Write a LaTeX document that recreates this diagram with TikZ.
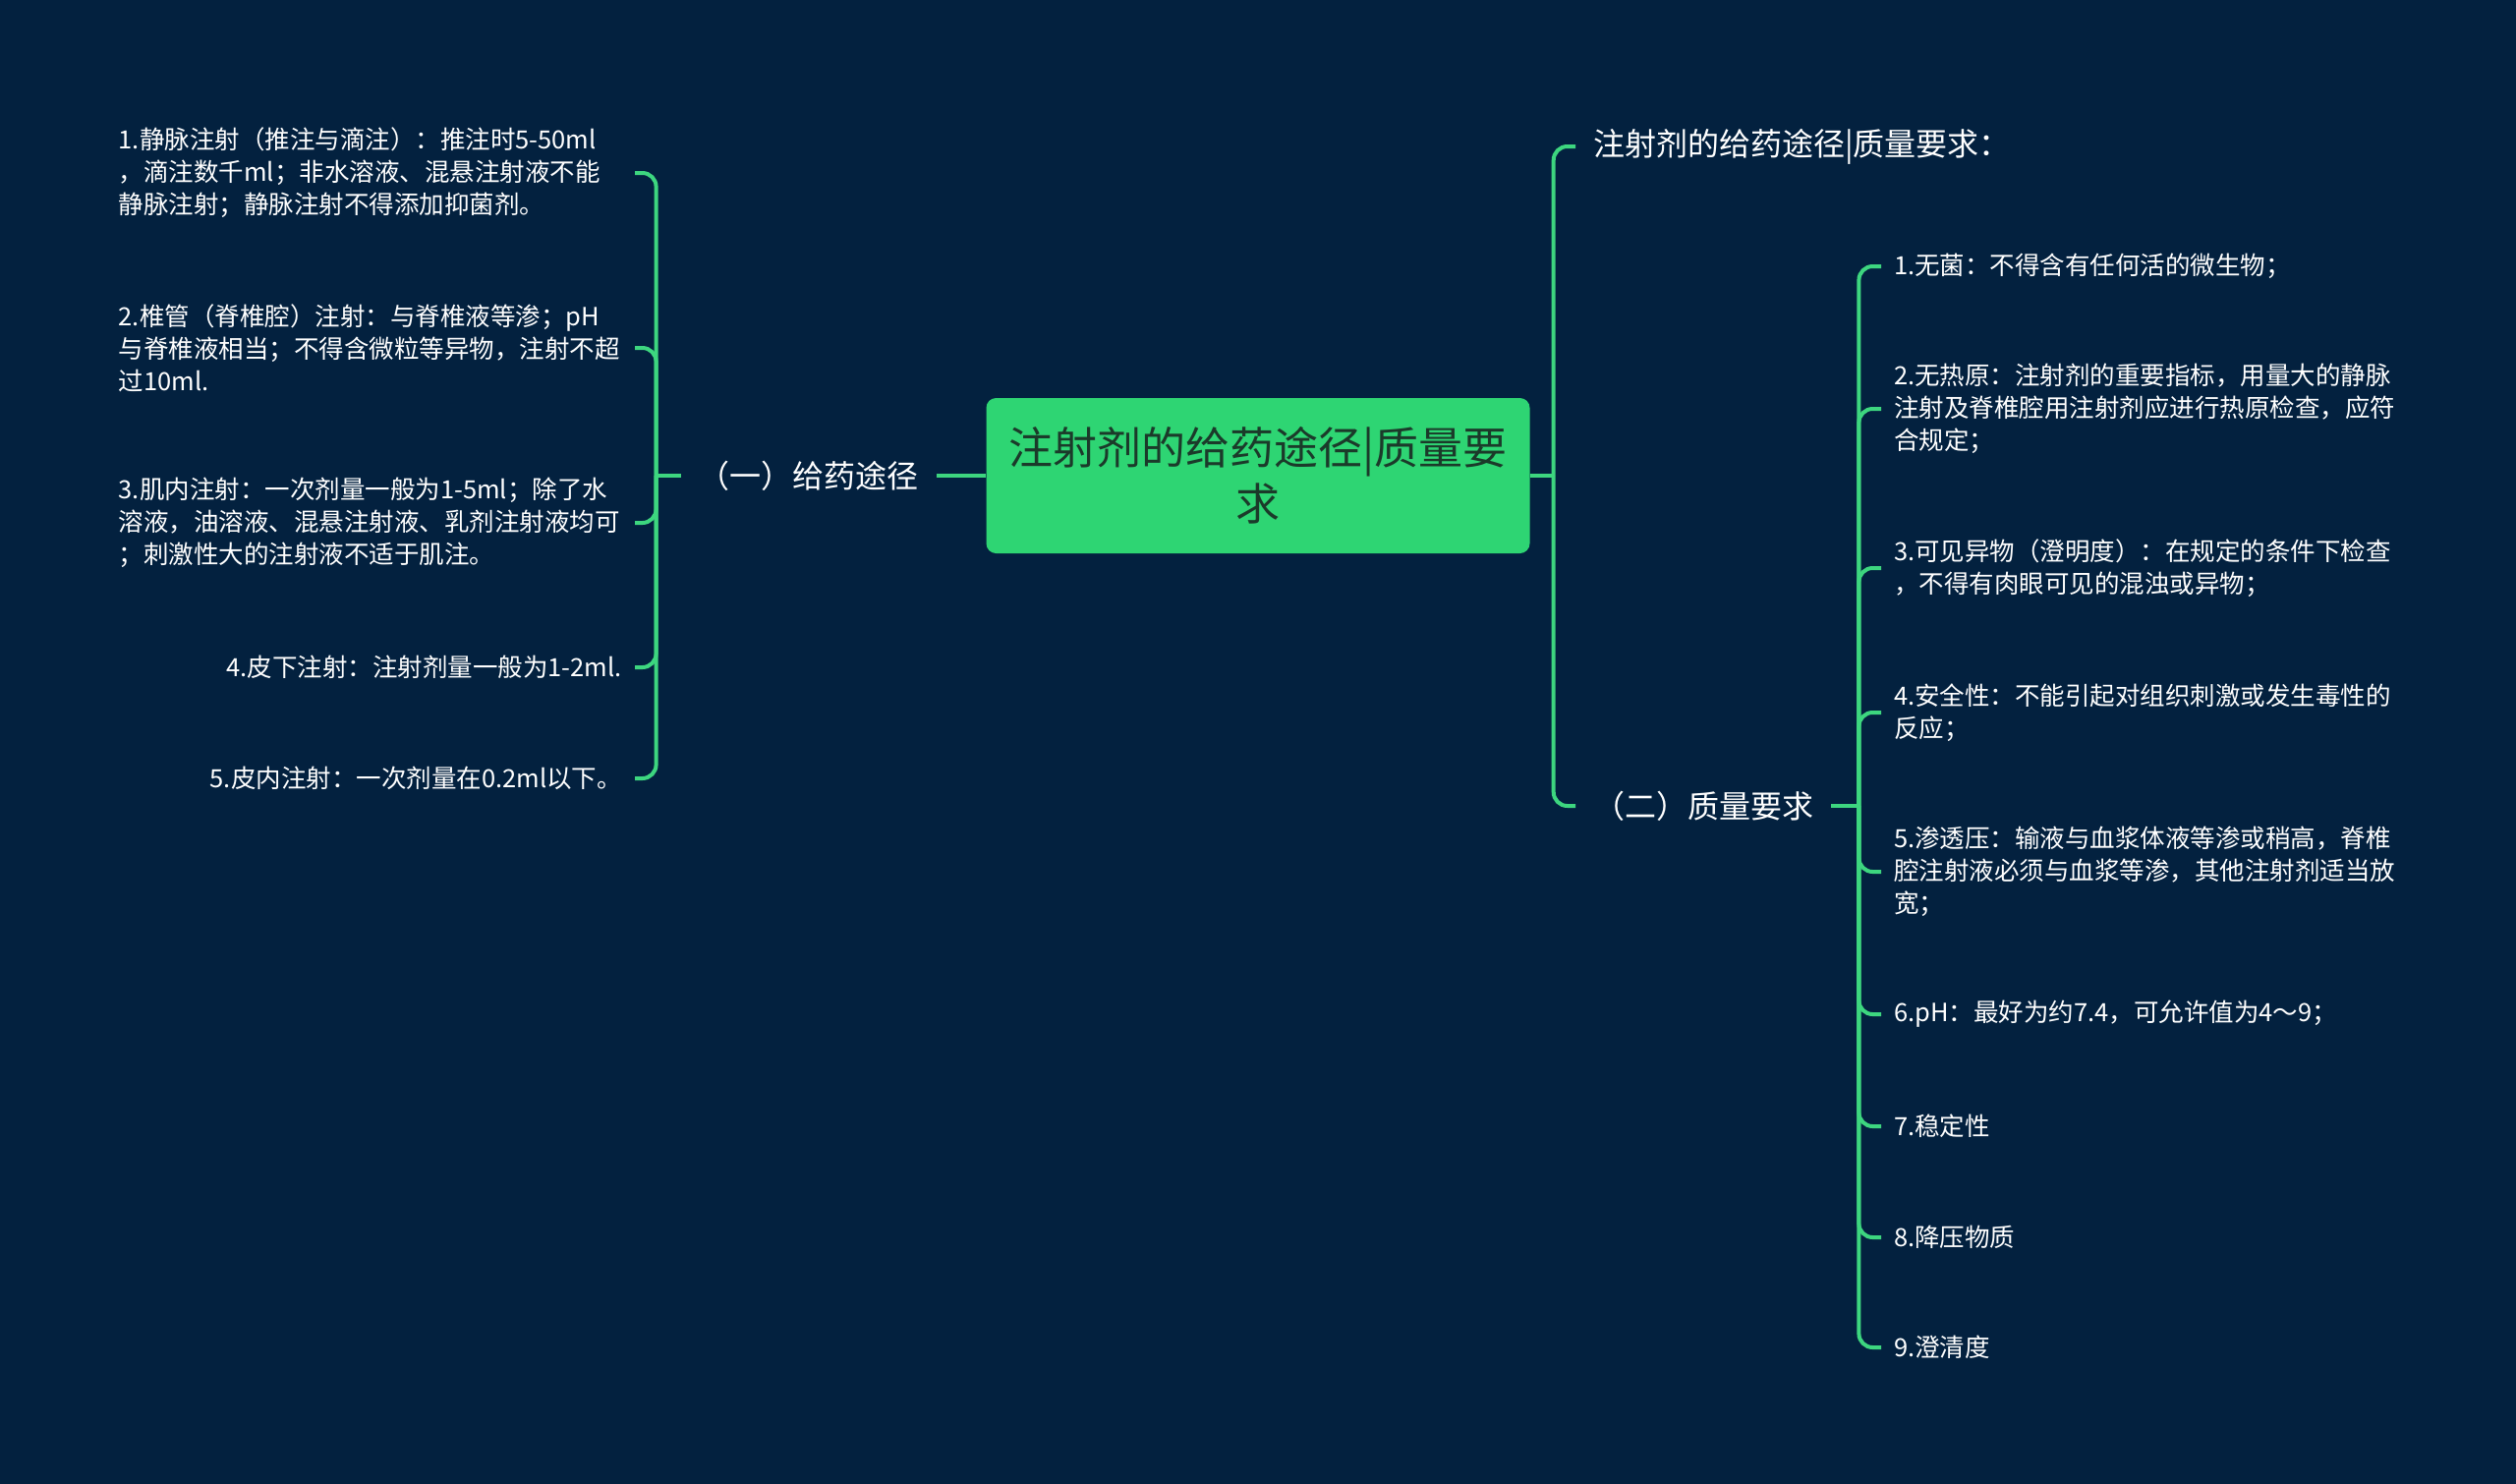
\documentclass[tikz,border=0pt]{standalone}
\usepackage{fontspec}
\setmainfont{Noto Sans CJK SC}
\usepackage{xcolor}
\usepackage{tikz}
\usetikzlibrary{calc,positioning}
\definecolor{navy}{HTML}{03213F}
\definecolor{mint}{HTML}{2ED573}
\definecolor{twig}{HTML}{3DD67F}
\definecolor{rootink}{HTML}{1B3A2A}
\newcommand{\LeafFont}{\fontsize{25.5}{33}\selectfont}
\newcommand{\MidFont}{\fontsize{32}{40}\selectfont}
\newcommand{\RootFont}{\fontsize{45}{57}\selectfont}

\begin{document}
\begin{tikzpicture}[x=1pt,y=-1pt,
    link/.style={twig,line width=4pt,rounded corners=14pt},
    root/.style={fill=mint,text=rootink,font=\RootFont,rounded corners=10pt,minimum width=553pt,minimum height=158pt,align=center},
    mid/.style={text=white,font=\MidFont,inner xsep=18pt},
    leaf/.style={text=white,font=\LeafFont,align=left,inner xsep=13pt},
    wide/.style={text width=512pt}]
  \fill[navy] (0,0) rectangle (2560,1510);
  \useasboundingbox (0,0) rectangle (2560,1510);
  \node[root] (root) at (1280,484) {注射剂的给药途径|质量要\\求};
  % LEFT BRANCH
  \node[mid,anchor=east] (g1) at (953,484) {（一）给药途径};
  \node[leaf,wide,anchor=east] (l1) at (646,176) {1.静脉注射（推注与滴注）：推注时5-50ml\\，滴注数千ml；非水溶液、混悬注射液不能\\静脉注射；静脉注射不得添加抑菌剂。};
  \node[leaf,wide,anchor=east] (l2) at (646,354) {2.椎管（脊椎腔）注射：与脊椎液等渗；pH\\与脊椎液相当；不得含微粒等异物，注射不超\\过10ml.};
  \node[leaf,wide,anchor=east] (l3) at (646,532) {3.肌内注射：一次剂量一般为1-5ml；除了水\\溶液，油溶液、混悬注射液、乳剂注射液均可\\；刺激性大的注射液不适于肌注。};
  \node[leaf,anchor=east] (l4) at (646,679) {4.皮下注射：注射剂量一般为1-2ml.};
  \node[leaf,anchor=east] (l5) at (646,792) {5.皮内注射：一次剂量在0.2ml以下。};
  % RIGHT BRANCH
  \node[mid,anchor=west] (t1) at (1603,149) {注射剂的给药途径|质量要求：};
  \node[mid,anchor=west] (g2) at (1603,820) {（二）质量要求};
  \node[leaf,wide,anchor=west] (r1) at (1914,271) {1.无菌：不得含有任何活的微生物；};
  \node[leaf,wide,anchor=west] (r2) at (1914,416) {2.无热原：注射剂的重要指标，用量大的静脉\\注射及脊椎腔用注射剂应进行热原检查，应符\\合规定；};
  \node[leaf,wide,anchor=west] (r3) at (1914,578) {3.可见异物（澄明度）：在规定的条件下检查\\，不得有肉眼可见的混浊或异物；};
  \node[leaf,wide,anchor=west] (r4) at (1914,725) {4.安全性：不能引起对组织刺激或发生毒性的\\反应；};
  \node[leaf,wide,anchor=west] (r5) at (1914,887) {5.渗透压：输液与血浆体液等渗或稍高，脊椎\\腔注射液必须与血浆等渗，其他注射剂适当放\\宽；};
  \node[leaf,anchor=west] (r6) at (1914,1032) {6.pH：最好为约7.4，可允许值为4～9；};
  \node[leaf,anchor=west] (r7) at (1914,1146) {7.稳定性};
  \node[leaf,anchor=west] (r8) at (1914,1259) {8.降压物质};
  \node[leaf,anchor=west] (r9) at (1914,1371) {9.澄清度};
  % CONNECTORS
  \coordinate (jl) at ($(g1.west)+(-25,0)$);
  \coordinate (jr) at ($(root.east)+(24,0)$);
  \coordinate (jq) at ($(g2.east)+(28,0)$);
  \draw[link] (root.west) -- (g1.east);
  \draw[link] (g1.west) -- (jl);
  \foreach \n in {l1,l2,l3,l4,l5}{\draw[link] (jl) |- (\n.east);}
  \draw[link] (root.east) -- (jr);
  \foreach \n in {t1,g2}{\draw[link] (jr) |- (\n.west);}
  \draw[link] (g2.east) -- (jq);
  \foreach \i in {1,...,9}{\draw[link] (jq) |- (r\i.west);}
\end{tikzpicture}
\end{document}
